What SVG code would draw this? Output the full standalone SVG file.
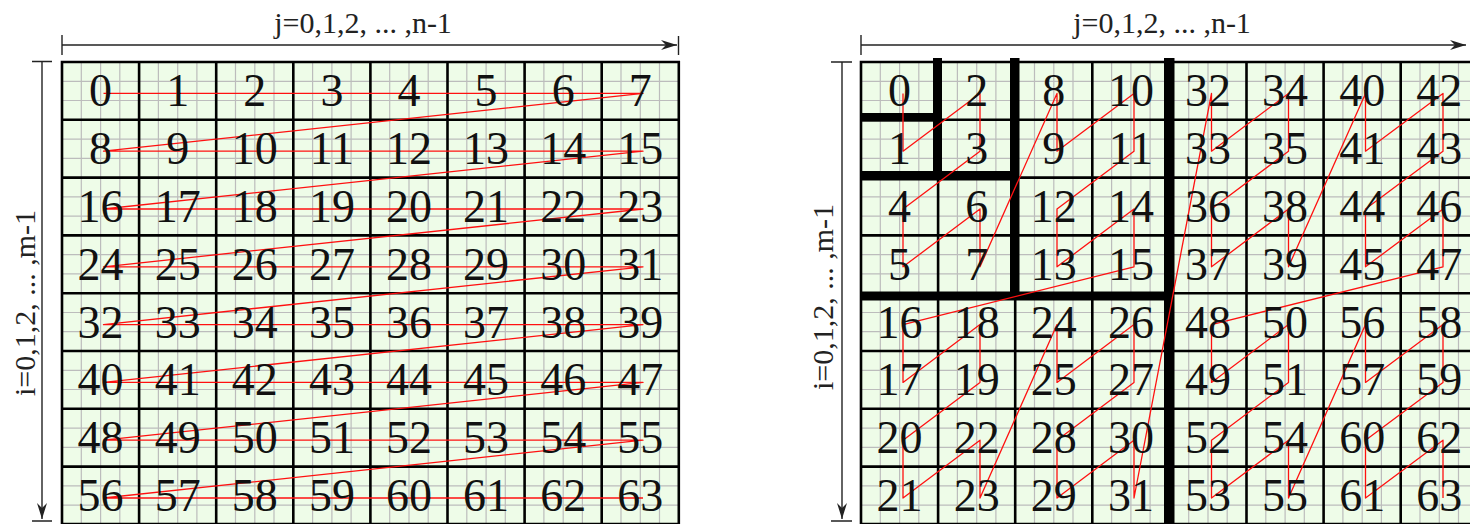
<svg xmlns="http://www.w3.org/2000/svg" width="1470" height="524" viewBox="0 0 1470 524">
<style>
.bg{fill:#eefce8}
.fine{fill:none;stroke:#bcbcbc;stroke-width:1.2}
.cell{fill:none;stroke:#000;stroke-width:2.6}
.thick{fill:#000}
.red{fill:none;stroke:#ff1010;stroke-width:1.3;stroke-linejoin:round}
.axis{fill:none;stroke:#222;stroke-width:1.4}
.lab{font-family:"Liberation Serif","Times New Roman",serif;font-size:30px;fill:#222;text-anchor:middle}
.n{font-family:"Liberation Serif","Times New Roman",serif;font-size:46px;fill:#111;text-anchor:middle}
</style>
<defs>
<marker id="ah" markerUnits="userSpaceOnUse" markerWidth="18" markerHeight="12" refX="16" refY="6" orient="auto">
<path d="M0,1 L16,6 L0,11 L5,6 z" fill="#222"/>
</marker>
</defs>
<rect width="1470" height="524" fill="#fff"/>

<g id="axes">
<text class="lab" x="363" y="33">j=0,1,2, ... ,n-1</text>
<path class="axis" d="M62 45H677" marker-end="url(#ah)"/>
<path class="axis" d="M62 35V55M678.5 36V55"/>
<text class="lab" transform="translate(35,303) rotate(-90)">i=0,1,2, ... ,m-1</text>
<path class="axis" d="M42 62V519" marker-end="url(#ah)"/>
<path class="axis" d="M32 61.5H52M32 521H52"/>
<text class="lab" x="1162" y="33">j=0,1,2, ... ,n-1</text>
<path class="axis" d="M861 45H1466" marker-end="url(#ah)"/>
<path class="axis" d="M861 35V55"/>
<text class="lab" transform="translate(833,297) rotate(-90)">i=0,1,2, ... ,m-1</text>
<path class="axis" d="M842 62V519" marker-end="url(#ah)"/>
<path class="axis" d="M831 62H852M831 521H852"/>
</g>

<g id="left-grid">
<rect class="bg" x="62" y="62" width="617" height="463"/>
<path class="fine" d="M81.3 62V525M100.6 62V525M119.8 62V525M158.4 62V525M177.7 62V525M196.9 62V525M235.5 62V525M254.8 62V525M274 62V525M312.6 62V525M331.9 62V525M351.1 62V525M389.7 62V525M409 62V525M428.2 62V525M466.8 62V525M486.1 62V525M505.3 62V525M543.9 62V525M563.2 62V525M582.4 62V525M621 62V525M640.3 62V525M659.5 62V525
M62 81.3H679M62 100.5H679M62 139.1H679M62 158.3H679M62 196.9H679M62 216.1H679M62 254.7H679M62 273.9H679M62 312.5H679M62 331.7H679M62 370.3H679M62 389.5H679M62 428.1H679M62 447.3H679M62 485.9H679M62 505.1H679"/>
<path class="cell" d="M62 62V525M139.1 62V525M216.2 62V525M293.3 62V525M370.4 62V525M447.5 62V525M524.6 62V525M601.7 62V525M678.8 62V525
M60.7 62H680.1M62 119.8H679M62 177.6H679M62 235.4H679M62 293.2H679M62 351H679M62 408.8H679M62 466.6H679M60.7 524H680.1"/>
</g>

<g id="right-grid">
<rect class="bg" x="861" y="62" width="609" height="463"/>
<path class="fine" d="M880.3 62V525M899.6 62V525M918.8 62V525M957.4 62V525M976.7 62V525M995.9 62V525M1034.5 62V525M1053.8 62V525M1073 62V525M1111.6 62V525M1130.9 62V525M1150.1 62V525M1188.7 62V525M1208 62V525M1227.2 62V525M1265.8 62V525M1285.1 62V525M1304.3 62V525M1342.9 62V525M1362.2 62V525M1381.4 62V525M1420 62V525M1439.3 62V525M1458.5 62V525
M861 81.3H1470M861 100.5H1470M861 139.1H1470M861 158.3H1470M861 196.9H1470M861 216.1H1470M861 254.7H1470M861 273.9H1470M861 312.5H1470M861 331.7H1470M861 370.3H1470M861 389.5H1470M861 428.1H1470M861 447.3H1470M861 485.9H1470M861 505.1H1470"/>
<path class="cell" d="M861 62V525M938.1 62V525M1015.2 62V525M1092.3 62V525M1169.4 62V525M1246.5 62V525M1323.6 62V525M1400.7 62V525
M859.7 62H1470M861 119.8H1470M861 177.6H1470M861 235.4H1470M861 293.2H1470M861 351H1470M861 408.8H1470M861 466.6H1470M859.7 524H1470"/>
<rect class="thick" x="933" y="58" width="9" height="122"/>
<rect class="thick" x="860" y="113" width="82" height="8.7"/>
<rect class="thick" x="1010" y="58" width="9.5" height="242"/>
<rect class="thick" x="860" y="171" width="159" height="9.5"/>
<rect class="thick" x="1164" y="58" width="10.5" height="466"/>
<rect class="thick" x="860" y="291.5" width="314" height="9"/>
</g>

<g id="connectors">
<path class="red" d="M103.5 93.4H643L103.5 151.2H643L103.5 209H643L103.5 266.8H643L103.5 324.6H643L103.5 382.4H643L103.5 440.2H643L103.5 498H643"/>
<path class="red" d="M903 93.4L903 151.2L980 93.4L980 151.2L903 209L903 266.8L980 209L980 266.8L1057 93.4L1057 151.2L1134 93.4L1134 151.2L1057 209L1057 266.8L1134 209L1134 266.8L903 324.6L903 382.4L980 324.6L980 382.4L903 440.2L903 498L980 440.2L980 498L1057 324.6L1057 382.4L1134 324.6L1134 382.4L1057 440.2L1057 498L1134 440.2L1134 498L1211.5 93.4L1211.5 151.2L1288.5 93.4L1288.5 151.2L1211.5 209L1211.5 266.8L1288.5 209L1288.5 266.8L1365.5 93.4L1365.5 151.2L1443 93.4L1443 151.2L1365.5 209L1365.5 266.8L1443 209L1443 266.8L1211.5 324.6L1211.5 382.4L1288.5 324.6L1288.5 382.4L1211.5 440.2L1211.5 498L1288.5 440.2L1288.5 498L1365.5 324.6L1365.5 382.4L1443 324.6L1443 382.4L1365.5 440.2L1365.5 498L1443 440.2L1443 498"/>
</g>

<g id="left-cells">
<g id="L0"><text class="n" x="100.6" y="106.4">0</text></g>
<g id="L1"><text class="n" x="177.7" y="106.4">1</text></g>
<g id="L2"><text class="n" x="254.8" y="106.4">2</text></g>
<g id="L3"><text class="n" x="331.9" y="106.4">3</text></g>
<g id="L4"><text class="n" x="409" y="106.4">4</text></g>
<g id="L5"><text class="n" x="486.1" y="106.4">5</text></g>
<g id="L6"><text class="n" x="563.2" y="106.4">6</text></g>
<g id="L7"><text class="n" x="640.3" y="106.4">7</text></g>
<g id="L8"><text class="n" x="100.6" y="164.2">8</text></g>
<g id="L9"><text class="n" x="177.7" y="164.2">9</text></g>
<g id="L10"><text class="n" x="254.8" y="164.2">10</text></g>
<g id="L11"><text class="n" x="331.9" y="164.2">11</text></g>
<g id="L12"><text class="n" x="409" y="164.2">12</text></g>
<g id="L13"><text class="n" x="486.1" y="164.2">13</text></g>
<g id="L14"><text class="n" x="563.2" y="164.2">14</text></g>
<g id="L15"><text class="n" x="640.3" y="164.2">15</text></g>
<g id="L16"><text class="n" x="100.6" y="222">16</text></g>
<g id="L17"><text class="n" x="177.7" y="222">17</text></g>
<g id="L18"><text class="n" x="254.8" y="222">18</text></g>
<g id="L19"><text class="n" x="331.9" y="222">19</text></g>
<g id="L20"><text class="n" x="409" y="222">20</text></g>
<g id="L21"><text class="n" x="486.1" y="222">21</text></g>
<g id="L22"><text class="n" x="563.2" y="222">22</text></g>
<g id="L23"><text class="n" x="640.3" y="222">23</text></g>
<g id="L24"><text class="n" x="100.6" y="279.8">24</text></g>
<g id="L25"><text class="n" x="177.7" y="279.8">25</text></g>
<g id="L26"><text class="n" x="254.8" y="279.8">26</text></g>
<g id="L27"><text class="n" x="331.9" y="279.8">27</text></g>
<g id="L28"><text class="n" x="409" y="279.8">28</text></g>
<g id="L29"><text class="n" x="486.1" y="279.8">29</text></g>
<g id="L30"><text class="n" x="563.2" y="279.8">30</text></g>
<g id="L31"><text class="n" x="640.3" y="279.8">31</text></g>
<g id="L32"><text class="n" x="100.6" y="337.6">32</text></g>
<g id="L33"><text class="n" x="177.7" y="337.6">33</text></g>
<g id="L34"><text class="n" x="254.8" y="337.6">34</text></g>
<g id="L35"><text class="n" x="331.9" y="337.6">35</text></g>
<g id="L36"><text class="n" x="409" y="337.6">36</text></g>
<g id="L37"><text class="n" x="486.1" y="337.6">37</text></g>
<g id="L38"><text class="n" x="563.2" y="337.6">38</text></g>
<g id="L39"><text class="n" x="640.3" y="337.6">39</text></g>
<g id="L40"><text class="n" x="100.6" y="395.4">40</text></g>
<g id="L41"><text class="n" x="177.7" y="395.4">41</text></g>
<g id="L42"><text class="n" x="254.8" y="395.4">42</text></g>
<g id="L43"><text class="n" x="331.9" y="395.4">43</text></g>
<g id="L44"><text class="n" x="409" y="395.4">44</text></g>
<g id="L45"><text class="n" x="486.1" y="395.4">45</text></g>
<g id="L46"><text class="n" x="563.2" y="395.4">46</text></g>
<g id="L47"><text class="n" x="640.3" y="395.4">47</text></g>
<g id="L48"><text class="n" x="100.6" y="453.2">48</text></g>
<g id="L49"><text class="n" x="177.7" y="453.2">49</text></g>
<g id="L50"><text class="n" x="254.8" y="453.2">50</text></g>
<g id="L51"><text class="n" x="331.9" y="453.2">51</text></g>
<g id="L52"><text class="n" x="409" y="453.2">52</text></g>
<g id="L53"><text class="n" x="486.1" y="453.2">53</text></g>
<g id="L54"><text class="n" x="563.2" y="453.2">54</text></g>
<g id="L55"><text class="n" x="640.3" y="453.2">55</text></g>
<g id="L56"><text class="n" x="100.6" y="511">56</text></g>
<g id="L57"><text class="n" x="177.7" y="511">57</text></g>
<g id="L58"><text class="n" x="254.8" y="511">58</text></g>
<g id="L59"><text class="n" x="331.9" y="511">59</text></g>
<g id="L60"><text class="n" x="409" y="511">60</text></g>
<g id="L61"><text class="n" x="486.1" y="511">61</text></g>
<g id="L62"><text class="n" x="563.2" y="511">62</text></g>
<g id="L63"><text class="n" x="640.3" y="511">63</text></g>
</g>

<g id="right-cells">
<g id="R0"><text class="n" x="899.6" y="106.4">0</text></g>
<g id="R2"><text class="n" x="976.7" y="106.4">2</text></g>
<g id="R8"><text class="n" x="1053.8" y="106.4">8</text></g>
<g id="R10"><text class="n" x="1130.9" y="106.4">10</text></g>
<g id="R32"><text class="n" x="1208" y="106.4">32</text></g>
<g id="R34"><text class="n" x="1285.1" y="106.4">34</text></g>
<g id="R40"><text class="n" x="1362.2" y="106.4">40</text></g>
<g id="R42"><text class="n" x="1439.3" y="106.4">42</text></g>
<g id="R1"><text class="n" x="899.6" y="164.2">1</text></g>
<g id="R3"><text class="n" x="976.7" y="164.2">3</text></g>
<g id="R9"><text class="n" x="1053.8" y="164.2">9</text></g>
<g id="R11"><text class="n" x="1130.9" y="164.2">11</text></g>
<g id="R33"><text class="n" x="1208" y="164.2">33</text></g>
<g id="R35"><text class="n" x="1285.1" y="164.2">35</text></g>
<g id="R41"><text class="n" x="1362.2" y="164.2">41</text></g>
<g id="R43"><text class="n" x="1439.3" y="164.2">43</text></g>
<g id="R4"><text class="n" x="899.6" y="222">4</text></g>
<g id="R6"><text class="n" x="976.7" y="222">6</text></g>
<g id="R12"><text class="n" x="1053.8" y="222">12</text></g>
<g id="R14"><text class="n" x="1130.9" y="222">14</text></g>
<g id="R36"><text class="n" x="1208" y="222">36</text></g>
<g id="R38"><text class="n" x="1285.1" y="222">38</text></g>
<g id="R44"><text class="n" x="1362.2" y="222">44</text></g>
<g id="R46"><text class="n" x="1439.3" y="222">46</text></g>
<g id="R5"><text class="n" x="899.6" y="279.8">5</text></g>
<g id="R7"><text class="n" x="976.7" y="279.8">7</text></g>
<g id="R13"><text class="n" x="1053.8" y="279.8">13</text></g>
<g id="R15"><text class="n" x="1130.9" y="279.8">15</text></g>
<g id="R37"><text class="n" x="1208" y="279.8">37</text></g>
<g id="R39"><text class="n" x="1285.1" y="279.8">39</text></g>
<g id="R45"><text class="n" x="1362.2" y="279.8">45</text></g>
<g id="R47"><text class="n" x="1439.3" y="279.8">47</text></g>
<g id="R16"><text class="n" x="899.6" y="337.6">16</text></g>
<g id="R18"><text class="n" x="976.7" y="337.6">18</text></g>
<g id="R24"><text class="n" x="1053.8" y="337.6">24</text></g>
<g id="R26"><text class="n" x="1130.9" y="337.6">26</text></g>
<g id="R48"><text class="n" x="1208" y="337.6">48</text></g>
<g id="R50"><text class="n" x="1285.1" y="337.6">50</text></g>
<g id="R56"><text class="n" x="1362.2" y="337.6">56</text></g>
<g id="R58"><text class="n" x="1439.3" y="337.6">58</text></g>
<g id="R17"><text class="n" x="899.6" y="395.4">17</text></g>
<g id="R19"><text class="n" x="976.7" y="395.4">19</text></g>
<g id="R25"><text class="n" x="1053.8" y="395.4">25</text></g>
<g id="R27"><text class="n" x="1130.9" y="395.4">27</text></g>
<g id="R49"><text class="n" x="1208" y="395.4">49</text></g>
<g id="R51"><text class="n" x="1285.1" y="395.4">51</text></g>
<g id="R57"><text class="n" x="1362.2" y="395.4">57</text></g>
<g id="R59"><text class="n" x="1439.3" y="395.4">59</text></g>
<g id="R20"><text class="n" x="899.6" y="453.2">20</text></g>
<g id="R22"><text class="n" x="976.7" y="453.2">22</text></g>
<g id="R28"><text class="n" x="1053.8" y="453.2">28</text></g>
<g id="R30"><text class="n" x="1130.9" y="453.2">30</text></g>
<g id="R52"><text class="n" x="1208" y="453.2">52</text></g>
<g id="R54"><text class="n" x="1285.1" y="453.2">54</text></g>
<g id="R60"><text class="n" x="1362.2" y="453.2">60</text></g>
<g id="R62"><text class="n" x="1439.3" y="453.2">62</text></g>
<g id="R21"><text class="n" x="899.6" y="511">21</text></g>
<g id="R23"><text class="n" x="976.7" y="511">23</text></g>
<g id="R29"><text class="n" x="1053.8" y="511">29</text></g>
<g id="R31"><text class="n" x="1130.9" y="511">31</text></g>
<g id="R53"><text class="n" x="1208" y="511">53</text></g>
<g id="R55"><text class="n" x="1285.1" y="511">55</text></g>
<g id="R61"><text class="n" x="1362.2" y="511">61</text></g>
<g id="R63"><text class="n" x="1439.3" y="511">63</text></g>
</g>
</svg>
